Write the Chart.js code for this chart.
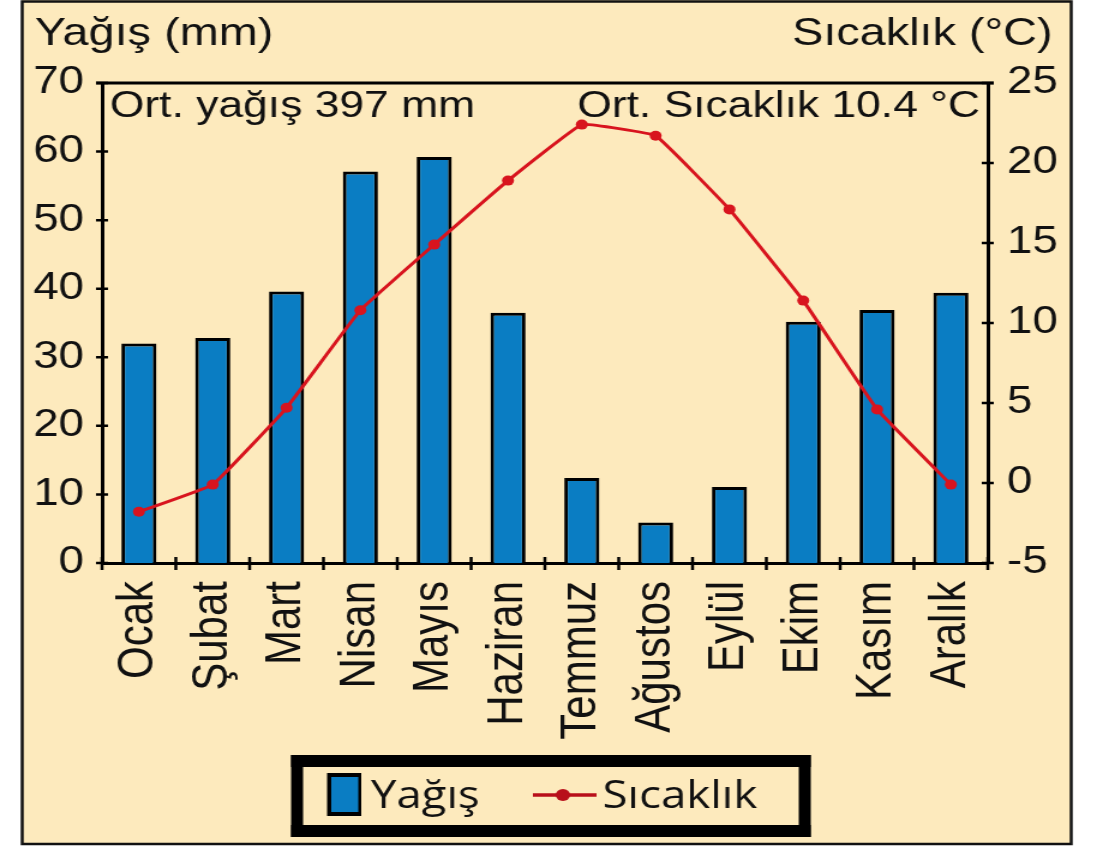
<!DOCTYPE html>
<html lang="tr">
<head>
<meta charset="utf-8">
<title>Yağış ve Sıcaklık</title>
<script src="https://cdn.jsdelivr.net/npm/chart.js@4.4.1/dist/chart.umd.min.js"></script>
<style>
    body { margin: 0; background: #ffffff; }
    /* the original picture is stretched sideways, so the canvas is too */
    #climateChart { display: block; width: 1097px !important; height: 847px !important; }
</style>
</head>
<body>
<canvas id="climateChart" width="914" height="847" style="width:1097px;height:847px"></canvas>
<script>
// Monthly data
const months = ['Ocak', 'Şubat', 'Mart', 'Nisan', 'Mayıs', 'Haziran', 'Temmuz', 'Ağustos', 'Eylül', 'Ekim', 'Kasım', 'Aralık'];
const yagis = [32.0, 32.8, 39.6, 57.1, 59.2, 36.5, 12.4, 5.9, 11.1, 35.2, 36.9, 39.4];
const sicaklik = [-1.8, -0.1, 4.7, 10.8, 14.9, 18.9, 22.4, 21.7, 17.1, 11.4, 4.6, -0.1];

// Axis ranges
const yagisTicks = [0, 10, 20, 30, 40, 50, 60, 70];
const sicaklikTicks = [-5, 0, 5, 10, 15, 20, 25];

const BG = '#FDEABD';
const BLUE = '#0A7DC3';
const RED = '#D8141E';
const FONT = '"Liberation Sans", Arial, sans-serif';

// Draws the frame, titles, crossing tick marks and the boxed legend
const decorPlugin = {
    id: 'decor',
    beforeDraw(chart) {
        const ctx = chart.ctx;
        ctx.save();
        ctx.fillStyle = '#ffffff';
        ctx.fillRect(0, 0, chart.width, chart.height);
        ctx.fillStyle = BG;
        ctx.fillRect(18.5, 0, 874, 845);
        ctx.strokeStyle = '#111';
        ctx.lineWidth = 2.5;
        ctx.strokeRect(18.5, 1.5, 874, 842.5);
        ctx.restore();
    },
    afterDraw(chart) {
        const ctx = chart.ctx;
        const area = chart.chartArea;
        const x = chart.scales.x;
        const y = chart.scales.y;
        const y1 = chart.scales.y1;
        ctx.save();

        // top line of the plot box
        ctx.strokeStyle = '#000';
        ctx.lineWidth = 3;
        ctx.beginPath();
        ctx.moveTo(area.left - 5, area.top);
        ctx.lineTo(area.right + 5, area.top);
        ctx.stroke();

        // tick marks crossing the axes
        ctx.lineWidth = 2.5;
        ctx.beginPath();
        y.ticks.forEach((t, i) => {
            const py = y.getPixelForTick(i);
            ctx.moveTo(area.left - 5, py);
            ctx.lineTo(area.left + 5, py);
        });
        y1.ticks.forEach((t, i) => {
            const py = y1.getPixelForTick(i);
            ctx.moveTo(area.right - 5, py);
            ctx.lineTo(area.right + 5, py);
        });
        const step = (x.right - x.left) / months.length;
        for (let k = 0; k <= months.length; k++) {
            const px = x.left + k * step;
            ctx.moveTo(px, area.bottom - 6);
            ctx.lineTo(px, area.bottom + 7);
        }
        ctx.stroke();

        // axis titles
        ctx.fillStyle = '#111';
        ctx.textBaseline = 'alphabetic';
        ctx.font = '39px ' + FONT;
        ctx.textAlign = 'left';
        ctx.fillText('Yağış (mm)', 29, 45);
        ctx.textAlign = 'right';
        ctx.fillText('Sıcaklık (°C)', 877, 45);

        // averages inside the plot
        ctx.font = '37px ' + FONT;
        ctx.textAlign = 'left';
        ctx.fillText('Ort. yağış 397 mm', 91.5, 117);
        ctx.textAlign = 'right';
        ctx.fillText('Ort. Sıcaklık 10.4 °C', 816.5, 117);

        // legend box with a thick black border
        ctx.fillStyle = '#000';
        ctx.fillRect(242.5, 755, 433, 12);
        ctx.fillRect(242.5, 825, 433, 12);
        ctx.fillRect(242.5, 755, 10, 82);
        ctx.fillRect(665.5, 755, 10, 82);

        // bar swatch
        ctx.fillRect(272.5, 773, 28.5, 43);
        ctx.fillStyle = BLUE;
        ctx.fillRect(276, 777, 22.5, 35);

        // line swatch
        ctx.strokeStyle = '#B80F1A';
        ctx.lineWidth = 3.5;
        ctx.beginPath();
        ctx.moveTo(444, 795);
        ctx.lineTo(497, 795);
        ctx.stroke();
        ctx.fillStyle = '#B80F1A';
        ctx.beginPath();
        ctx.arc(469, 795, 6, 0, Math.PI * 2);
        ctx.fill();

        ctx.fillStyle = '#111';
        ctx.font = '38px "Open Sans", "Noto Sans", sans-serif';
        ctx.textAlign = 'left';
        ctx.fillText(chart.data.datasets[1].label, 309, 808);
        ctx.fillText(chart.data.datasets[0].label, 502, 808);

        ctx.restore();
    }
};

function createClimateChart() {
    const ctx = document.getElementById('climateChart').getContext('2d');
    new Chart(ctx, {
        type: 'bar',
        data: {
            labels: months,
            datasets: [{
                type: 'line',
                label: 'Sıcaklık',
                data: sicaklik,
                yAxisID: 'y1',
                order: 1,
                borderColor: RED,
                backgroundColor: RED,
                borderWidth: 3,
                pointRadius: 5,
                pointBackgroundColor: RED,
                pointBorderWidth: 0,
                tension: 0.08
            }, {
                label: 'Yağış',
                data: yagis,
                yAxisID: 'y',
                order: 2,
                backgroundColor: BLUE,
                borderColor: '#000',
                borderWidth: 3,
                barPercentage: 0.475,
                categoryPercentage: 1
            }]
        },
        options: {
            responsive: false,
            animation: false,
            devicePixelRatio: 1,
            layout: { padding: { top: 83, left: 0, right: 0, bottom: 0 } },
            plugins: {
                legend: { display: false },
                tooltip: { enabled: false }
            },
            scales: {
                x: {
                    offset: true,
                    grid: { display: false, drawTicks: false },
                    border: { display: true, color: '#000', width: 3 },
                    ticks: {
                        color: '#111',
                        font: { family: FONT, size: 42 },
                        minRotation: 90,
                        maxRotation: 90,
                        autoSkip: false,
                        padding: 18
                    },
                    afterFit: (scale) => { scale.height = 284; }
                },
                y: {
                    position: 'left',
                    min: yagisTicks[0],
                    max: yagisTicks[yagisTicks.length - 1],
                    afterBuildTicks: (scale) => { scale.ticks = yagisTicks.map(v => ({ value: v })); },
                    grid: { display: false, drawTicks: false },
                    border: { display: true, color: '#000', width: 3 },
                    ticks: {
                        color: '#111',
                        font: { family: FONT, size: 38 },
                        padding: 15
                    },
                    afterFit: (scale) => { scale.width = 85; }
                },
                y1: {
                    position: 'right',
                    min: sicaklikTicks[0],
                    max: sicaklikTicks[sicaklikTicks.length - 1],
                    afterBuildTicks: (scale) => { scale.ticks = sicaklikTicks.map(v => ({ value: v })); },
                    grid: { display: false, drawTicks: false },
                    border: { display: true, color: '#000', width: 3 },
                    ticks: {
                        color: '#111',
                        font: { family: FONT, size: 38 },
                        padding: 16
                    },
                    afterFit: (scale) => { scale.width = 91; }
                }
            }
        },
        plugins: [decorPlugin]
    });
}

document.addEventListener('DOMContentLoaded', () => {
    createClimateChart();
});
</script>
</body>
</html>
